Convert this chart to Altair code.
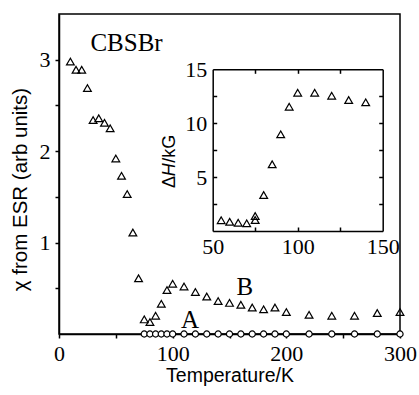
import altair as alt
import pandas as pd

# ---- main panel data ----
main_T = [10, 15, 20, 25, 30, 35, 40, 45, 50, 55, 60, 65, 70, 75, 80, 85, 90, 95, 100,
          110, 120, 130, 140, 150, 160, 170, 180, 190, 200, 220, 240, 260, 280, 300]
main_chi = [2.98, 2.89, 2.89, 2.69, 2.34, 2.36, 2.31, 2.25, 1.92, 1.73, 1.53, 1.11, 0.61,
            0.16, 0.13, 0.20, 0.33, 0.48, 0.55, 0.52, 0.46, 0.41, 0.36, 0.34, 0.32, 0.29,
            0.27, 0.29, 0.24, 0.21, 0.20, 0.20, 0.23, 0.24]
circ_T = [75, 80, 85, 90, 95, 100, 110, 120, 130, 140, 150, 160, 170, 180, 190, 200,
          220, 240, 260, 280, 300]
circ_chi = [0, 0, 0, 0, 0, 0, 0, 0, 0, 0, 0, 0, 0, 0, 0, 0, 0, 0, 0, 0, 0]

# ---- inset data ----
inset_T = [55, 60, 65, 70, 75, 75, 80, 85, 90, 95, 100, 110, 120, 130, 140]
inset_dH = [1.0, 0.86, 0.77, 0.71, 1.39, 1.02, 3.34, 6.19, 8.97, 11.53, 12.83, 12.83,
            12.55, 12.15, 11.94]

# ---- annotations ----
label_text = ["CBSBr", "A", "B"]
label_T = [59.4, 115.2, 163.6]
label_chi = [3.18, 0.15, 0.51]

main_df = pd.DataFrame({"T": main_T, "chi": main_chi})
circ_df = pd.DataFrame({"T": circ_T, "chi": circ_chi})
inset_df = pd.DataFrame({"T": inset_T, "dH": inset_dH})
lab_df = pd.DataFrame({"T": label_T, "chi": label_chi, "text": label_text})

W, H = 341, 320
SERIF = "Liberation Serif"
SANS = "Liberation Sans"

common_axis = dict(domainColor="black", tickColor="black", labelColor="black",
                   titleColor="black", domainWidth=1.5, tickWidth=1.5, grid=False,
                   labelFlush=False, labelOverlap=False, labelFont=SERIF,
                   labelFontSize=22, titleFont=SANS, titleFontWeight="normal")

xs_main = alt.Scale(domain=[0, 300], nice=False, zero=False)
ys_main = alt.Scale(domain=[0, 3.5], nice=False, zero=False)

x_main_axis = alt.Axis(orient="bottom", values=[0, 50, 100, 150, 200, 250, 300],
                       labelExpr="datum.value % 100 == 0 ? format(datum.value, 'd') : ''",
                       tickSize=4, labelPadding=5, title="Temperature/K",
                       titleFontSize=19.5, titleY=41, titleBaseline="middle",
                       **common_axis)
y_main_axis = alt.Axis(orient="left", values=[0.5, 1, 1.5, 2, 2.5, 3],
                       labelExpr="(datum.value == 1 || datum.value == 2 || datum.value == 3) ? format(datum.value, 'd') : ''",
                       tickSize=4, labelPadding=5, title="χ from ESR (arb units)",
                       titleFontSize=20.5, titleAngle=270, titleX=-39, titleY=175,
                       titleBaseline="middle", titleAlign="center", **common_axis)

tri_main = alt.Chart(main_df).mark_point(
    shape="triangle-up", filled=False, stroke="black", strokeWidth=1.2, size=60, opacity=1
).encode(
    x=alt.X("T:Q", scale=xs_main, axis=x_main_axis),
    y=alt.Y("chi:Q", scale=ys_main, axis=y_main_axis),
)

line_circ = alt.Chart(circ_df).mark_line(color="black", strokeWidth=1.2).encode(
    x=alt.X("T:Q", scale=xs_main, axis=None),
    y=alt.Y("chi:Q", scale=ys_main, axis=None),
)
pts_circ = alt.Chart(circ_df).mark_point(
    shape="circle", filled=True, fill="white", stroke="black", strokeWidth=1.2,
    size=38, opacity=1
).encode(
    x=alt.X("T:Q", scale=xs_main, axis=None),
    y=alt.Y("chi:Q", scale=ys_main, axis=None),
)
texts = alt.Chart(lab_df).mark_text(
    font=SERIF, fontSize=25, color="black", align="center", baseline="middle"
).encode(
    x=alt.X("T:Q", scale=xs_main, axis=None),
    y=alt.Y("chi:Q", scale=ys_main, axis=None),
    text="text:N",
)

# ---- inset ----
IX0, IX1 = 153.7, 323.7
IY0, IY1 = 217.0, 55.3
TX = 110.0  # inset title centre (plot coords)
xs_in = alt.Scale(domain=[50, 150], range=[IX0, IX1], nice=False, zero=False)
ys_in = alt.Scale(domain=[0, 15], range=[IY0, IY1], nice=False, zero=False)

title_style = dict(titleFont=SANS, titleFontSize=18, titleFontWeight="normal",
                   titleColor="black", titleAngle=270, titleBaseline="middle",
                   titleAlign="center")

in_axis_x_lab = alt.Axis(orient="bottom", offset=IY0 - H, values=[50, 100, 150],
                         tickSize=0, labelPadding=5, title=None, **common_axis)
in_axis_y_lab = alt.Axis(orient="left", offset=-IX0, values=[5, 10, 15],
                         tickSize=0, labelPadding=6, title="Δ",
                         titleFontSize=18, titleAngle=270, titleX=TX - IX0, titleY=167.5,
                         titleBaseline="middle", titleAlign="center", **common_axis)

tri_in = alt.Chart(inset_df).mark_point(
    shape="triangle-up", filled=False, stroke="black", strokeWidth=1.2, size=60, opacity=1
).encode(
    x=alt.X("T:Q", scale=xs_in, axis=in_axis_x_lab),
    y=alt.Y("dH:Q", scale=ys_in, axis=in_axis_y_lab),
)

tick_axis = dict(domainColor="black", tickColor="black", domainWidth=1.5, tickWidth=1.5,
                 grid=False, labels=False, tickSize=4)

# ticks pointing inward from the bottom and left edges
ticks_a = alt.Chart(inset_df).mark_point(opacity=0).encode(
    x=alt.X("T:Q", scale=xs_in,
            axis=alt.Axis(orient="top", offset=-IY0, values=[75, 100, 125],
                          domain=False, title=None, **tick_axis)),
    y=alt.Y("dH:Q", scale=ys_in,
            axis=alt.Axis(orient="right", offset=IX0 - W, values=[2.5, 5, 7.5, 10, 12.5],
                          domain=False, title="H", titleFontStyle="italic",
                          titleX=TX - IX0, titleY=155.3, **title_style, **tick_axis)),
)
# top and right borders with inward ticks
ticks_b = alt.Chart(inset_df).mark_point(opacity=0).encode(
    x=alt.X("T:Q", scale=xs_in,
            axis=alt.Axis(orient="bottom", offset=IY1 - H, values=[75, 100, 125],
                          domain=True, title=None, **tick_axis)),
    y=alt.Y("dH:Q", scale=ys_in,
            axis=alt.Axis(orient="left", offset=-IX1, values=[2.5, 5, 7.5, 10, 12.5],
                          domain=True, title="/kG",
                          titleX=TX - IX1, titleY=134.3, **title_style, **tick_axis)),
)

chart = alt.layer(
    tri_main, line_circ, pts_circ, texts, tri_in, ticks_a, ticks_b
).resolve_scale(
    x="independent", y="independent"
).resolve_axis(
    x="independent", y="independent"
).properties(
    width=W, height=H,
    autosize=alt.AutoSizeParams(type="none"),
    padding={"left": 59, "top": 14, "right": 19, "bottom": 61},
    background="white",
).configure_view(stroke="black", strokeWidth=1.5)

chart.save("out.html", embed_options={"renderer": "svg", "actions": False})
